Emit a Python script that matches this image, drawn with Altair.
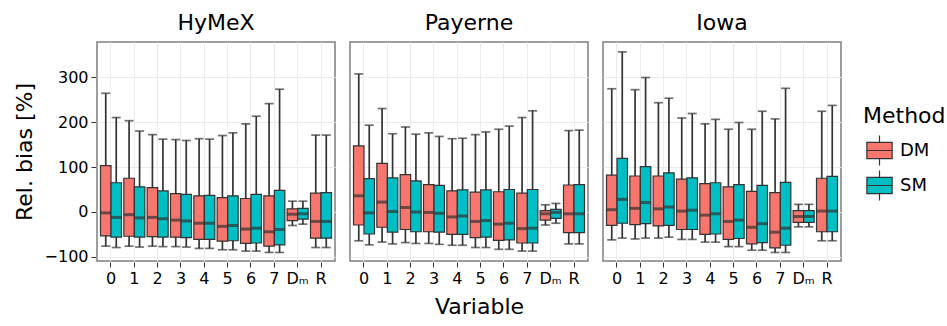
import altair as alt
import pandas as pd

sites = ["HyMeX", "Payerne", "Iowa"]
variables = ["0", "1", "2", "3", "4", "5", "6", "7", "Dₘ", "R"]
methods = ["DM", "SM"]
colors = ["#F8766D", "#00BFC4"]

# box statistics per site and method, one value per variable
hymex_dm_ymax = [264, 203, 172, 161, 163, 170, 196, 241, 24, 171]
hymex_dm_upper = [103, 75, 54, 41, 36, 32, 30, 36, 7, 42]
hymex_dm_median = [-2, -6, -12, -18, -25, -32, -38, -44, -5, -21]
hymex_dm_lower = [-53, -54, -55, -56, -61, -65, -70, -76, -19, -58]
hymex_dm_ymin = [-76, -76, -76, -77, -81, -84, -87, -90, -30, -79]

hymex_sm_ymax = [210, 180, 162, 159, 162, 176, 213, 273, 24, 171]
hymex_sm_upper = [65, 56, 47, 39, 37, 36, 39, 48, 8, 43]
hymex_sm_median = [-12, -13, -15, -20, -25, -30, -36, -39, -4, -21]
hymex_sm_lower = [-56, -56, -56, -57, -61, -64, -69, -73, -16, -58]
hymex_sm_ymin = [-79, -78, -77, -78, -81, -84, -87, -90, -27, -79]

payerne_dm_ymax = [307, 230, 189, 176, 163, 172, 184, 210, 16, 181]
payerne_dm_upper = [147, 108, 83, 61, 47, 44, 45, 42, 3, 60]
payerne_dm_median = [36, 22, 10, -1, -11, -21, -27, -37, -4, -4]
payerne_dm_lower = [-29, -34, -39, -44, -50, -57, -63, -69, -18, -46]
payerne_dm_ymin = [-64, -67, -68, -70, -74, -79, -83, -87, -29, -71]

payerne_sm_ymax = [193, 174, 173, 168, 164, 178, 191, 225, 19, 182]
payerne_sm_upper = [74, 76, 69, 59, 49, 49, 50, 50, 6, 61]
payerne_sm_median = [-2, 1, 0, -3, -9, -19, -25, -36, -1, -4]
payerne_sm_lower = [-49, -45, -44, -45, -50, -56, -62, -69, -14, -46]
payerne_sm_ymin = [-73, -71, -70, -72, -74, -79, -83, -87, -25, -71]

iowa_dm_ymax = [274, 272, 243, 209, 196, 184, 184, 207, 17, 224]
iowa_dm_upper = [82, 80, 80, 73, 63, 56, 46, 43, 3, 75]
iowa_dm_median = [5, 8, 7, 2, -7, -21, -34, -45, -10, 2]
iowa_dm_lower = [-30, -28, -31, -39, -50, -61, -71, -80, -23, -44]
iowa_dm_ymin = [-62, -60, -58, -61, -67, -77, -85, -90, -33, -64]

iowa_sm_ymax = [356, 299, 253, 219, 206, 199, 224, 275, 17, 237]
iowa_sm_upper = [119, 101, 87, 76, 65, 61, 59, 66, 3, 79]
iowa_sm_median = [28, 21, 11, 4, -4, -18, -26, -36, -10, 2]
iowa_sm_lower = [-25, -26, -30, -39, -49, -59, -68, -74, -23, -44]
iowa_sm_ymin = [-58, -58, -56, -61, -67, -77, -85, -90, -33, -64]

y_ticks = [-100, -50, 0, 50, 100, 150, 200, 250, 300, 350]

stats = {
    ("HyMeX", "DM"): (hymex_dm_ymin, hymex_dm_lower, hymex_dm_median, hymex_dm_upper, hymex_dm_ymax),
    ("HyMeX", "SM"): (hymex_sm_ymin, hymex_sm_lower, hymex_sm_median, hymex_sm_upper, hymex_sm_ymax),
    ("Payerne", "DM"): (payerne_dm_ymin, payerne_dm_lower, payerne_dm_median, payerne_dm_upper, payerne_dm_ymax),
    ("Payerne", "SM"): (payerne_sm_ymin, payerne_sm_lower, payerne_sm_median, payerne_sm_upper, payerne_sm_ymax),
    ("Iowa", "DM"): (iowa_dm_ymin, iowa_dm_lower, iowa_dm_median, iowa_dm_upper, iowa_dm_ymax),
    ("Iowa", "SM"): (iowa_sm_ymin, iowa_sm_lower, iowa_sm_median, iowa_sm_upper, iowa_sm_ymax),
}

rows = []
for (site, method), (ymin, lower, median, upper, ymax) in stats.items():
    for i, v in enumerate(variables):
        rows.append(dict(Site=site, Method=method, Variable=v, ymin=ymin[i],
                         lower=lower[i], median=median[i], upper=upper[i], ymax=ymax[i]))
df = pd.DataFrame(rows)

FONT = "DejaVu Sans"
INK = "#333333"

yscale = alt.Scale(domain=[-109, 378], nice=False, zero=False)
x_enc = alt.X("Variable:N", sort=variables,
              scale=alt.Scale(paddingInner=0, paddingOuter=0.1),
              axis=alt.Axis(title=None, labelAngle=0, grid=True, gridColor="#EBEBEB",
                            labelFontSize=16))
xo_enc = alt.XOffset("Method:N", sort=methods,
                     scale=alt.Scale(paddingInner=0, paddingOuter=0.111))
y_axis = alt.Axis(
    title="Rel. bias [%]", values=y_ticks,
    labelExpr="datum.value % 100 === 0 ? datum.label : ''",
    gridColor={"condition": {"test": "datum.value % 100 === 0", "value": "#EBEBEB"}, "value": "#F5F5F5"},
    tickOpacity={"condition": {"test": "datum.value % 100 === 0", "value": 1}, "value": 0},
    labelFontSize=16, titleFontSize=22, titlePadding=8,
)

base = alt.Chart()

whisker = base.mark_rule(color=INK, strokeWidth=1.7).encode(
    x=x_enc, xOffset=xo_enc,
    y=alt.Y("ymin:Q", scale=yscale, axis=y_axis), y2="ymax:Q")

box_symbol = "M-0.8,-0.52H0.8V0.52H-0.8Z M0,-0.52V-0.95 M0,0.52V0.95 M-0.8,0H0.8"
box = base.mark_bar(stroke=INK, strokeWidth=1.2, opacity=1).encode(
    x=x_enc, xOffset=xo_enc,
    y=alt.Y("lower:Q", scale=yscale), y2="upper:Q",
    color=alt.Color("Method:N", sort=methods,
                    scale=alt.Scale(domain=methods, range=colors),
                    legend=alt.Legend(title="Method", titleFontSize=22, labelFontSize=18,
                                      symbolType=box_symbol, symbolSize=1000,
                                      symbolStrokeColor=INK, symbolStrokeWidth=1.2,
                                      rowPadding=0, titlePadding=6,
                                      orient="none", legendX=766, legendY=64)))

median = base.mark_tick(color=INK, thickness=3, size=10.5).encode(
    x=x_enc, xOffset=xo_enc, y=alt.Y("median:Q", scale=yscale))
cap_top = base.mark_tick(color=INK, thickness=1.7, size=9).encode(
    x=x_enc, xOffset=xo_enc, y=alt.Y("ymax:Q", scale=yscale))
cap_bot = base.mark_tick(color=INK, thickness=1.7, size=9).encode(
    x=x_enc, xOffset=xo_enc, y=alt.Y("ymin:Q", scale=yscale))

layered = alt.layer(whisker, box, median, cap_top, cap_bot, data=df).properties(width=238, height=219)

chart = layered.facet(
    column=alt.Column("Site:N", sort=sites,
                      header=alt.Header(title=None, labelFontSize=22, labelFont=FONT,
                                        labelColor="black", labelPadding=6)),
    spacing=13,
).properties(
    title=alt.TitleParams(text="Variable", orient="bottom", anchor="middle", fontSize=22,
                          fontWeight="normal", color="black", font=FONT, offset=11)
).configure(font=FONT, padding={"left": 13, "top": 12, "right": 0, "bottom": 2}).configure_view(
    stroke="#7F7F7F", strokeWidth=1.5
).configure_axis(
    domain=False, tickColor=INK, tickSize=5, tickWidth=1, labelColor="black",
    titleColor="black", titleFontWeight="normal", labelPadding=3, labelFont=FONT, titleFont=FONT,
).configure_legend(titleFontWeight="normal", titleColor="black", labelColor="black",
                   labelFont=FONT, titleFont=FONT)

chart.save("out.html", embed_options={"renderer": "svg", "actions": False})
